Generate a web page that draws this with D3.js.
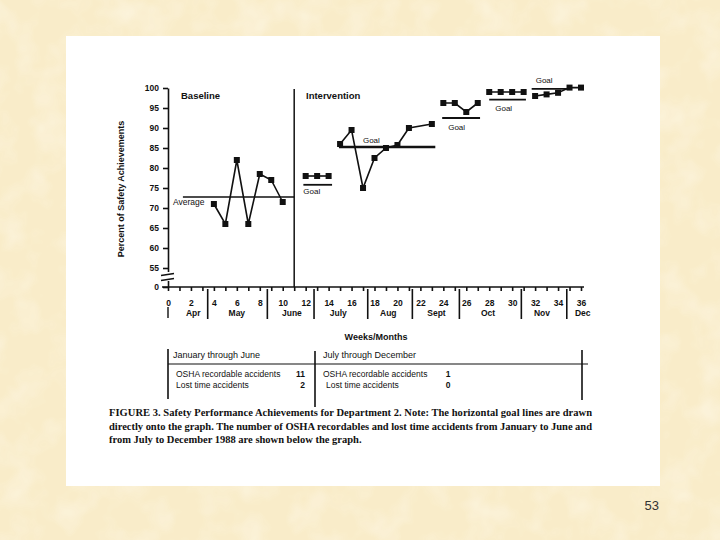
<!DOCTYPE html>
<html>
<head>
<meta charset="utf-8">
<script src="https://cdn.jsdelivr.net/npm/d3@7"></script>
<style>
  body { margin: 0; background: #faeecd; }
  svg { display: block; }
</style>
</head>
<body>
<script>
// ---- values ----
var yTicks = [0, 55, 60, 65, 70, 75, 80, 85, 90, 95, 100];
var weekTicks = d3.range(0, 37);
var monthNames = ["Apr", "May", "June", "July", "Aug", "Sept", "Oct", "Nov", "Dec"];
var monthMid = [2.2, 6, 10.8, 14.85, 19.2, 23.4, 27.9, 32.6, 36.15];
var monthBreaks = [3.46, 8.66, 12.73, 17.41, 21.3, 25.4, 30.8, 34.76];

var baseWeeks = [4, 5, 6, 7, 8, 9, 10];
var baseVals = [71, 66, 82, 66, 78.5, 77, 71.5];
var baseAverage = 72.75;
var avgSpan = [1.3, 11];
var phaseWeek = 11;

var ivWeeks = [[12, 13, 14], [15, 16, 17, 18, 19, 20, 21, 23], [24, 25, 26, 27], [28, 29, 30, 31], [32, 33, 34, 35, 36]];
var ivVals = [[78, 78, 78], [86, 89.5, 75, 82.5, 85, 85.75, 90, 91], [96.25, 96.25, 94, 96.25], [99, 99, 99, 99], [98, 98.4, 98.8, 100.1, 100.1]];
var goalVals = [75.8, 85.25, 92.5, 97.1, 99.8];
var goalFrom = [11.8, 14.9, 23.9, 28, 31.7];
var goalTo = [14.3, 23.3, 27.2, 31.2, 34.9];

var tableHead = ["January through June", "July through December"];
var tableRows = ["OSHA recordable accidents", "Lost time accidents"];
var firstHalf = [11, 2];
var secondHalf = [1, 0];

var caption = [
  "FIGURE 3. Safety Performance Achievements for Department 2. Note: The horizontal goal lines are drawn",
  "directly onto the graph. The number of OSHA recordables and lost time accidents from January to June and",
  "from July to December 1988 are shown below the graph."
];

// label placement for the goal captions (layout only)
var goalLabelDx = [0, 24, 6, 6, 4];
var goalLabelDy = [9, -4, 11.5, 11, -5.5];

var sans = "'Liberation Sans', Arial, sans-serif";
var ink = "#111";

var svg = d3.select("body").append("svg")
  .attr("width", 720).attr("height", 540);

// slide background with a light mottled texture
var defs = svg.append("defs");
var f = defs.append("filter").attr("id", "mottle").attr("x", 0).attr("y", 0).attr("width", 1).attr("height", 1);
f.append("feTurbulence").attr("type", "fractalNoise").attr("baseFrequency", 0.03).attr("numOctaves", 3).attr("seed", 7);
f.append("feColorMatrix").attr("type", "matrix")
  .attr("values", "0 0 0 0 1  0 0 0 0 0.97  0 0 0 0 0.88  0 0 0 -2 1.15");

svg.append("rect").attr("width", 720).attr("height", 540).attr("fill", "#f9ecc9");
svg.append("rect").attr("width", 720).attr("height", 540).attr("filter", "url(#mottle)").attr("opacity", 0.45);

// scanned page
svg.append("rect").attr("x", 66).attr("y", 36).attr("width", 594).attr("height", 450).attr("fill", "#fff");

svg.append("text").attr("x", 659).attr("y", 510).attr("text-anchor", "end")
  .style("font-family", sans).style("font-size", "13px").style("fill", "#333")
  .text("53");

////////////////////////////////////////////////////////////////
// scales and axes
////////////////////////////////////////////////////////////////
var xScale = d3.scaleLinear().domain([0, 36]).range([168, 581]);
var yScale = d3.scaleLinear().domain([0, 55, 100]).range([287, 268, 88]);

var chart = svg.append("g").style("font-family", sans);

var yAxis = d3.axisLeft(yScale).tickValues(yTicks).tickSize(5).tickPadding(4).tickSizeOuter(0);
var yAxisG = chart.append("g").attr("transform", "translate(168,0)").call(yAxis);

var xAxis = d3.axisBottom(xScale).tickValues(weekTicks).tickSize(4).tickPadding(9).tickSizeOuter(0)
  .tickFormat(function(d) { return d % 2 === 0 ? d : ""; });
var xAxisG = chart.append("g").attr("transform", "translate(0,287)").call(xAxis);

[yAxisG, xAxisG].forEach(function(g) {
  g.selectAll("path, line").attr("stroke", ink).attr("stroke-width", 1.6);
  g.selectAll("text").attr("fill", ink).style("font-size", "8.5px").style("font-weight", "bold")
    .style("font-family", sans);
});
xAxisG.select("path.domain").attr("d", "M162,0H584");

// axis break between 0 and 55
chart.append("rect").attr("x", 164).attr("y", 272).attr("width", 8).attr("height", 9).attr("fill", "#fff");
chart.append("line").attr("x1", 161).attr("y1", 275.5).attr("x2", 174).attr("y2", 273.5).attr("stroke", ink).attr("stroke-width", 1.3);
chart.append("line").attr("x1", 161).attr("y1", 280.5).attr("x2", 174).attr("y2", 278.5).attr("stroke", ink).attr("stroke-width", 1.3);

// month separators and names
chart.selectAll("line.month-sep")
  .data(monthBreaks)
  .enter()
  .append("line")
  .attr("class", "month-sep")
  .attr("x1", function(d) { return xScale(d); })
  .attr("x2", function(d) { return xScale(d); })
  .attr("y1", 289).attr("y2", 319)
  .attr("stroke", ink).attr("stroke-width", 1.6);

chart.append("line")
  .attr("x1", xScale(0)).attr("x2", xScale(0))
  .attr("y1", 307).attr("y2", 318)
  .attr("stroke", ink).attr("stroke-width", 1.4);

chart.selectAll("text.month")
  .data(monthNames)
  .enter()
  .append("text")
  .attr("class", "month")
  .attr("x", function(d, i) { return xScale(monthMid[i]); })
  .attr("y", 315.5)
  .attr("text-anchor", "middle")
  .style("font-size", "8.5px").style("font-weight", "bold").style("fill", ink)
  .text(function(d) { return d; });

chart.append("text").attr("x", 376).attr("y", 340).attr("text-anchor", "middle")
  .style("font-size", "9px").style("font-weight", "bold").style("fill", ink)
  .text("Weeks/Months");

chart.append("text")
  .attr("transform", "translate(124,189)rotate(-90)")
  .attr("text-anchor", "middle")
  .style("font-size", "9px").style("font-weight", "bold").style("fill", ink)
  .text("Percent of Safety Achievements");

////////////////////////////////////////////////////////////////
// phases
////////////////////////////////////////////////////////////////
chart.append("line")
  .attr("x1", xScale(phaseWeek)).attr("x2", xScale(phaseWeek))
  .attr("y1", yScale(100) + 1).attr("y2", yScale(0))
  .attr("stroke", ink).attr("stroke-width", 1.5);

chart.append("text").attr("x", 181).attr("y", 98.5)
  .style("font-size", "9.5px").style("font-weight", "bold").style("fill", ink).text("Baseline");
chart.append("text").attr("x", 306).attr("y", 98.5)
  .style("font-size", "9.5px").style("font-weight", "bold").style("fill", ink).text("Intervention");

// baseline average
chart.append("line")
  .attr("x1", xScale(avgSpan[0])).attr("x2", xScale(avgSpan[1]))
  .attr("y1", yScale(baseAverage)).attr("y2", yScale(baseAverage))
  .attr("stroke", ink).attr("stroke-width", 1.3);
chart.append("text").attr("x", 173).attr("y", 205)
  .style("font-size", "8.5px").style("fill", ink).text("Average");

var line = d3.line()
  .x(function(d) { return xScale(d[0]); })
  .y(function(d) { return yScale(d[1]); });

function drawSeries(weeks, vals, cls) {
  var pts = weeks.map(function(w, i) { return [w, vals[i]]; });
  chart.append("path").datum(pts)
    .attr("d", line).attr("fill", "none")
    .attr("stroke", ink).attr("stroke-width", 1.6);
  chart.selectAll("rect." + cls)
    .data(pts)
    .enter()
    .append("rect")
    .attr("class", cls)
    .attr("x", function(d) { return xScale(d[0]) - 3; })
    .attr("y", function(d) { return yScale(d[1]) - 3; })
    .attr("width", 6).attr("height", 6)
    .attr("fill", ink);
}

drawSeries(baseWeeks, baseVals, "base-pt");

////////////////////////////////////////////////////////////////
// intervention segments and hand-drawn goal lines
////////////////////////////////////////////////////////////////
ivWeeks.forEach(function(weeks, k) {
  drawSeries(weeks, ivVals[k], "iv-pt-" + k);
});

chart.selectAll("line.goal")
  .data(goalVals)
  .enter()
  .append("line")
  .attr("class", "goal")
  .attr("x1", function(d, i) { return xScale(goalFrom[i]); })
  .attr("x2", function(d, i) { return xScale(goalTo[i]); })
  .attr("y1", function(d) { return yScale(d); })
  .attr("y2", function(d) { return yScale(d); })
  .attr("stroke", ink)
  .attr("stroke-width", function(d, i) { return i === 1 ? 2.4 : 1.8; });

chart.selectAll("text.goal")
  .data(goalVals)
  .enter()
  .append("text")
  .attr("class", "goal")
  .attr("x", function(d, i) { return xScale(goalFrom[i]) + goalLabelDx[i]; })
  .attr("y", function(d, i) { return yScale(d) + goalLabelDy[i]; })
  .style("font-size", "8px").style("fill", ink)
  .text("Goal");

////////////////////////////////////////////////////////////////
// accident table
////////////////////////////////////////////////////////////////
var table = svg.append("g").style("font-family", sans).style("fill", ink);
[[168, 349, 399], [315, 351, 407], [582, 350, 400]].forEach(function(v) {
  table.append("line").attr("x1", v[0]).attr("x2", v[0]).attr("y1", v[1]).attr("y2", v[2])
    .attr("stroke", ink).attr("stroke-width", 1.6);
});
table.append("line").attr("x1", 168).attr("x2", 588).attr("y1", 364).attr("y2", 364)
  .attr("stroke", ink).attr("stroke-width", 1.2);

table.selectAll("text.head")
  .data(tableHead)
  .enter()
  .append("text")
  .attr("class", "head")
  .attr("x", function(d, i) { return i === 0 ? 173 : 323; })
  .attr("y", 358)
  .style("font-size", "9px")
  .text(function(d) { return d; });

tableRows.forEach(function(r, i) {
  var yy = 377 + i * 11;
  table.append("text").attr("x", 176).attr("y", yy).style("font-size", "8.5px").text(r);
  table.append("text").attr("x", 305).attr("y", yy).attr("text-anchor", "end")
    .style("font-size", "8.5px").style("font-weight", "bold").text(firstHalf[i]);
  table.append("text").attr("x", 323 + i * 3).attr("y", yy).style("font-size", "8.5px").text(r);
  table.append("text").attr("x", 448).attr("y", yy).attr("text-anchor", "middle")
    .style("font-size", "8.5px").style("font-weight", "bold").text(secondHalf[i]);
});

// caption
svg.selectAll("text.caption")
  .data(caption)
  .enter()
  .append("text")
  .attr("class", "caption")
  .attr("x", 109)
  .attr("y", function(d, i) { return 416 + i * 13.5; })
  .attr("textLength", function(d, i) { return i < 2 ? 483 : null; })
  .attr("lengthAdjust", "spacing")
  .style("font-family", "'Liberation Serif', 'Times New Roman', serif")
  .style("font-weight", "bold")
  .style("font-size", "10.5px")
  .style("fill", ink)
  .text(function(d) { return d; });
</script>
</body>
</html>
